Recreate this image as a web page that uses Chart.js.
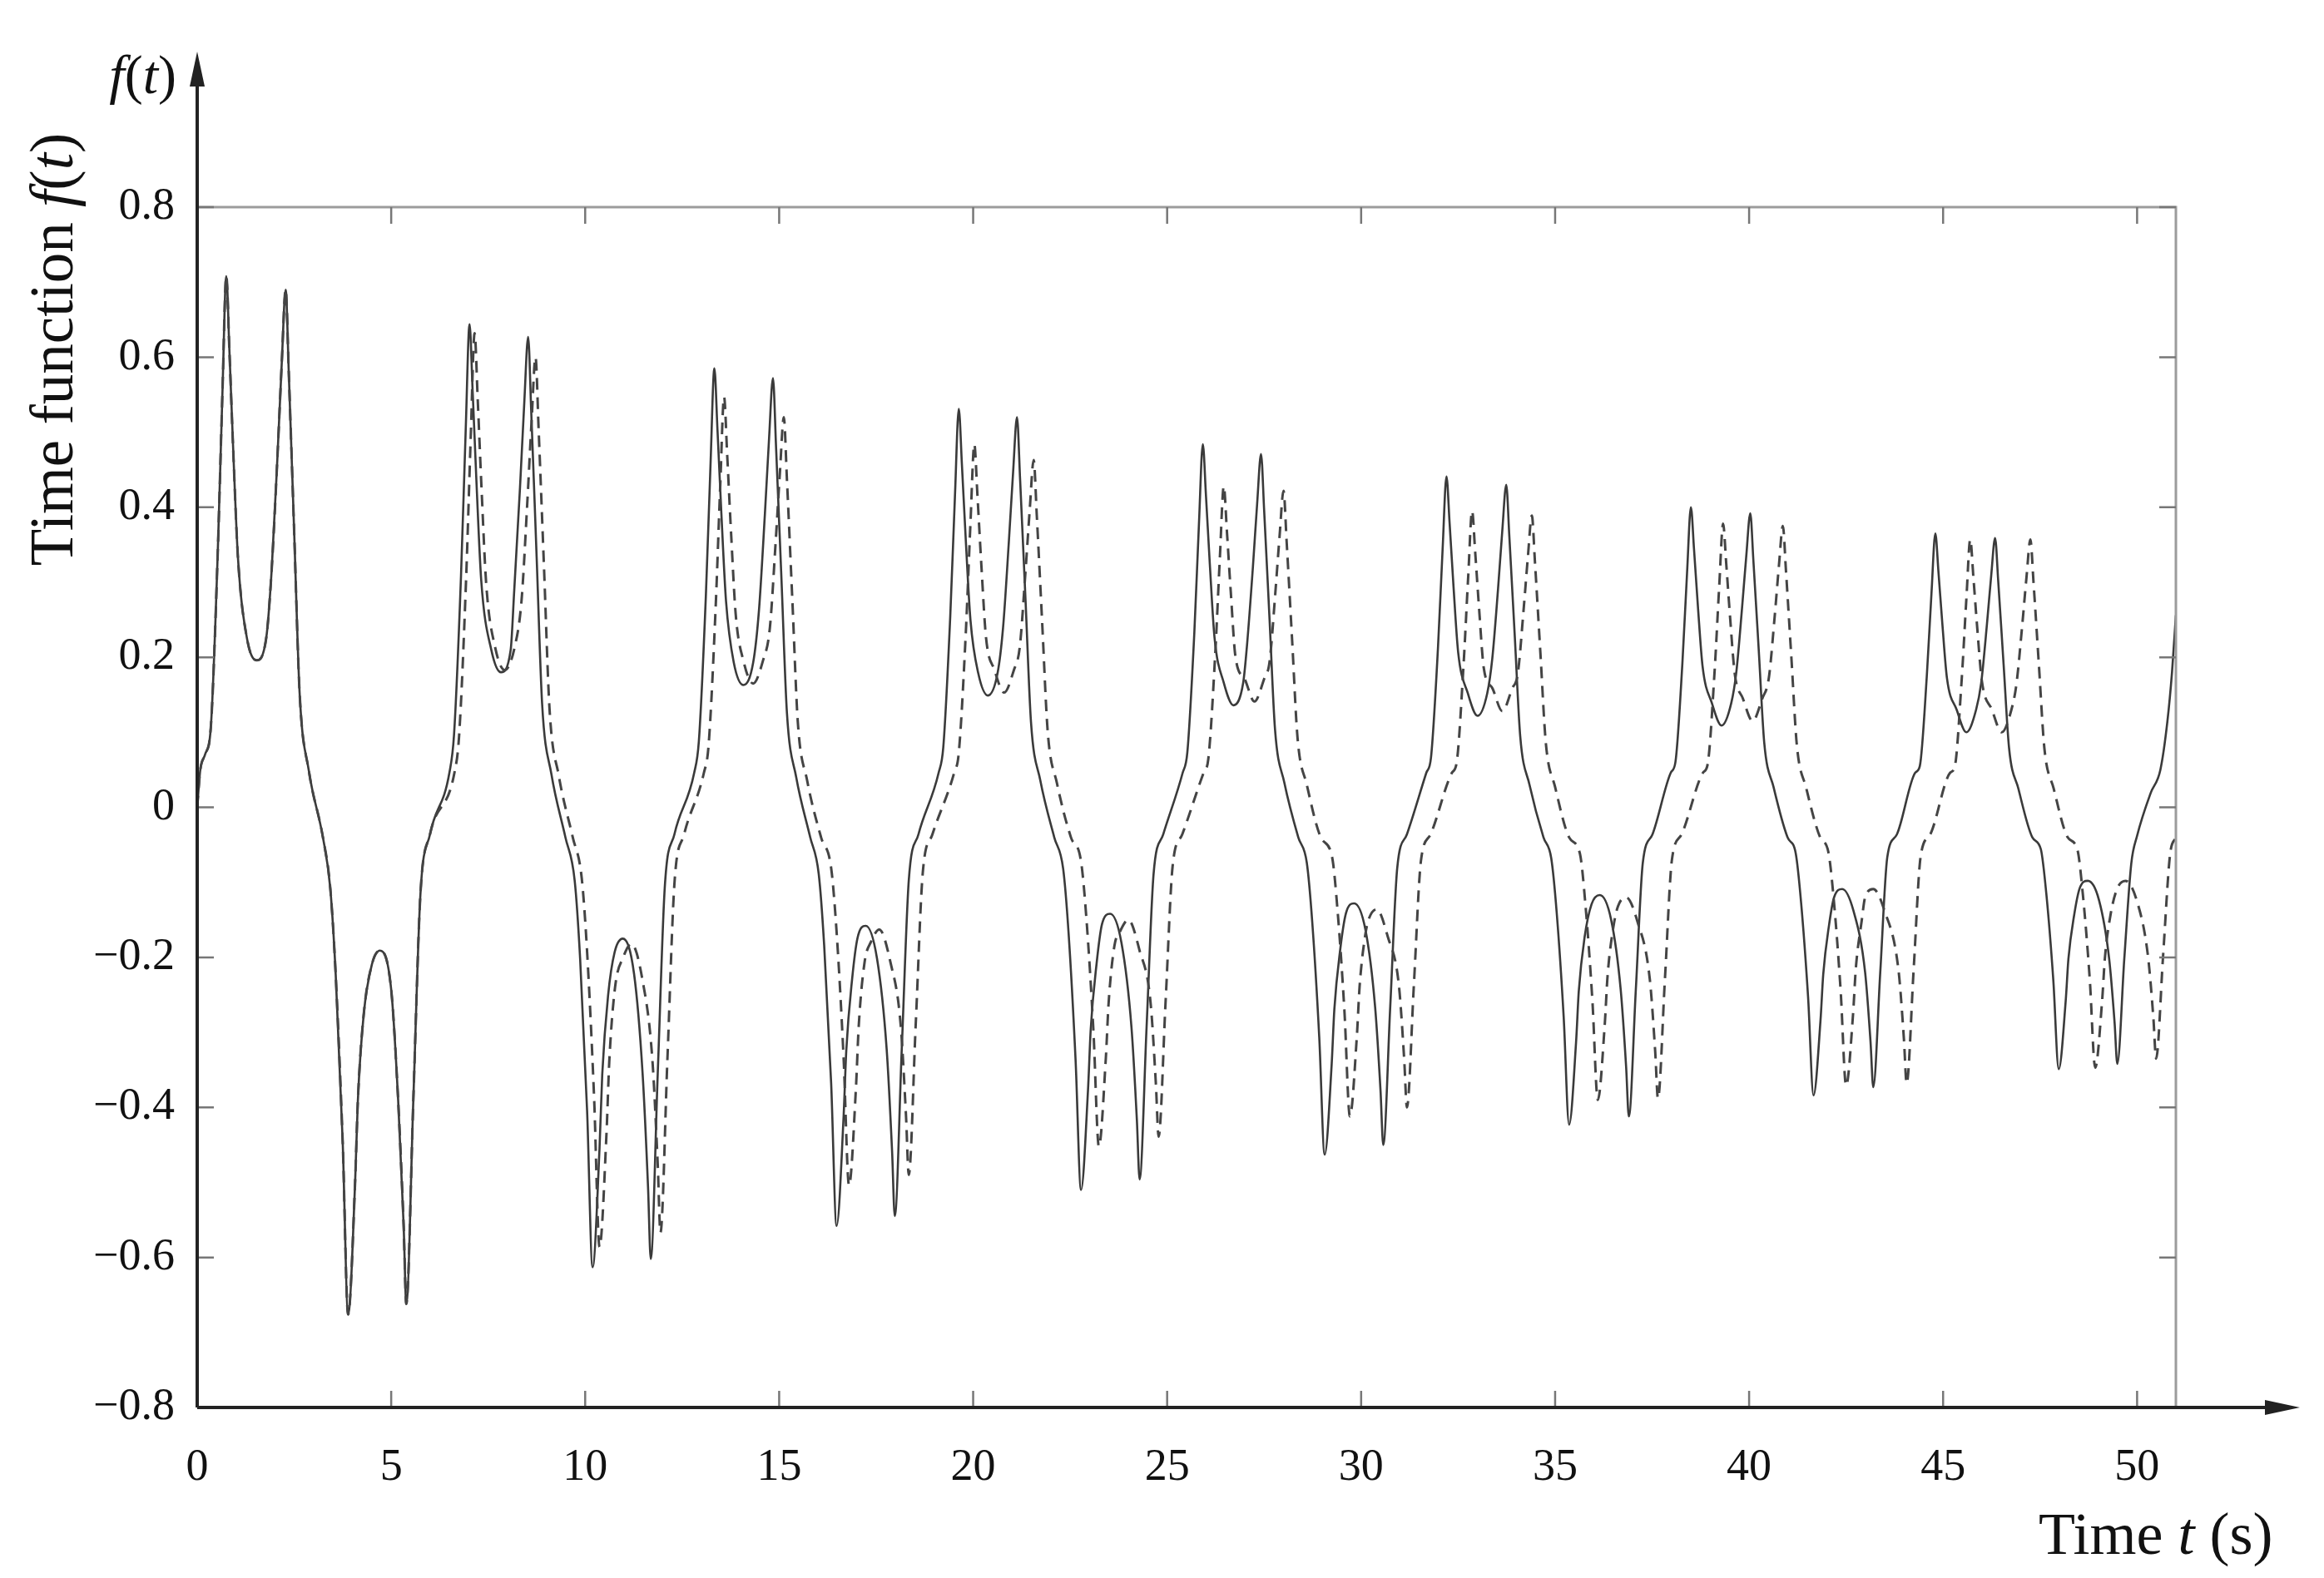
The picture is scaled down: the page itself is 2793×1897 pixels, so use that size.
<!DOCTYPE html>
<html>
<head>
<meta charset="utf-8">
<script src="https://cdn.jsdelivr.net/npm/chart.js@4.4.1/dist/chart.umd.min.js"></script>
<style>
    html, body { margin: 0; padding: 0; background: #fff; }
    #wrap { width: 2793px; height: 1897px; }
</style>
</head>
<body>
<div id="wrap"><canvas id="fchart" width="2793" height="1897"></canvas></div>
<script>
// Axis ticks
const X_TICKS = [0, 5, 10, 15, 20, 25, 30, 35, 40, 45, 50];
const Y_TICKS = [-0.8, -0.6, -0.4, -0.2, 0, 0.2, 0.4, 0.6, 0.8];
const T_MAX = 51;

// [t (s), f(t)] - solid curve
const solidCurve = [
    [0,0],[0.08,0.05],[0.2,0.07],[0.35,0.106],[0.53,0.34],[0.65,0.552],[0.75,0.708],[0.83,0.609],[0.93,0.474],[1.05,0.333],[1.28,0.226],[1.53,0.196],[1.78,0.226],[1.92,0.317],[2.07,0.469],[2.18,0.593],[2.28,0.69],[2.36,0.58],[2.5,0.366],[2.64,0.152],[2.88,0.048],[3.24,-0.04],[3.43,-0.108],[3.57,-0.223],[3.75,-0.446],[3.89,-0.676],[4.07,-0.5],[4.14,-0.392],[4.29,-0.277],[4.5,-0.21],[4.71,-0.191],[5.0,-0.243],[5.18,-0.391],[5.32,-0.556],[5.39,-0.662],
    [5.57,-0.391],[5.75,-0.119],[6.0,-0.036],[6.5,0.046],[6.62,0.097],[6.8,0.309],[6.92,0.502],[7.02,0.644],[7.1,0.554],[7.2,0.431],[7.32,0.303],[7.58,0.21],[7.83,0.18],[8.08,0.21],[8.17,0.288],[8.32,0.426],[8.43,0.539],[8.53,0.627],[8.61,0.527],[8.75,0.332],[8.89,0.138],[9.13,0.044],[9.49,-0.04],[9.73,-0.098],[9.87,-0.202],[10.05,-0.405],[10.19,-0.613],[10.37,-0.454],[10.44,-0.356],[10.59,-0.251],[10.76,-0.193],[10.97,-0.175],[11.26,-0.222],[11.48,-0.355],[11.62,-0.506],[11.69,-0.602],
    [11.87,-0.355],[12.05,-0.108],[12.3,-0.036],[12.81,0.046],[12.93,0.088],[13.11,0.281],[13.23,0.456],[13.33,0.585],[13.41,0.503],[13.51,0.392],[13.63,0.275],[13.83,0.193],[14.08,0.163],[14.33,0.193],[14.48,0.263],[14.63,0.389],[14.74,0.492],[14.84,0.572],[14.92,0.48],[15.06,0.303],[15.2,0.126],[15.44,0.04],[15.8,-0.04],[16.02,-0.089],[16.16,-0.184],[16.34,-0.368],[16.48,-0.558],[16.66,-0.413],[16.73,-0.324],[16.88,-0.229],[17.02,-0.174],[17.23,-0.158],[17.52,-0.201],[17.77,-0.322],[17.91,-0.458],[17.98,-0.545],
    [18.16,-0.322],[18.34,-0.098],[18.59,-0.036],[19.11,0.046],[19.23,0.08],[19.41,0.255],[19.53,0.414],[19.63,0.531],[19.71,0.457],[19.81,0.356],[19.93,0.25],[20.13,0.179],[20.38,0.149],[20.63,0.179],[20.77,0.239],[20.92,0.354],[21.03,0.447],[21.13,0.52],[21.21,0.437],[21.35,0.276],[21.49,0.114],[21.73,0.036],[22.09,-0.04],[22.32,-0.082],[22.46,-0.168],[22.64,-0.337],[22.78,-0.51],[22.96,-0.377],[23.03,-0.296],[23.18,-0.209],[23.32,-0.156],[23.53,-0.142],[23.82,-0.18],[24.08,-0.293],[24.22,-0.417],[24.29,-0.496],
    [24.47,-0.293],[24.65,-0.089],[24.9,-0.036],[25.4,0.046],[25.52,0.073],[25.7,0.232],[25.82,0.378],[25.92,0.484],[26.0,0.416],[26.1,0.324],[26.22,0.227],[26.46,0.166],[26.71,0.136],[26.96,0.166],[27.06,0.217],[27.21,0.32],[27.32,0.405],[27.42,0.471],[27.5,0.396],[27.64,0.25],[27.78,0.104],[28.02,0.033],[28.38,-0.04],[28.6,-0.074],[28.74,-0.153],[28.92,-0.306],[29.06,-0.463],[29.24,-0.343],[29.31,-0.269],[29.46,-0.19],[29.61,-0.141],[29.82,-0.128],[30.11,-0.163],[30.36,-0.266],[30.5,-0.378],[30.57,-0.45],
    [30.75,-0.266],[30.93,-0.081],[31.18,-0.036],[31.68,0.046],[31.8,0.066],[31.98,0.212],[32.1,0.344],[32.2,0.441],[32.28,0.379],[32.38,0.295],[32.5,0.207],[32.75,0.152],[33.0,0.122],[33.25,0.152],[33.38,0.198],[33.53,0.292],[33.64,0.37],[33.74,0.43],[33.82,0.361],[33.96,0.228],[34.1,0.095],[34.34,0.03],[34.7,-0.04],[34.9,-0.068],[35.04,-0.14],[35.22,-0.279],[35.36,-0.423],[35.54,-0.313],[35.61,-0.245],[35.76,-0.173],[35.94,-0.129],[36.15,-0.117],[36.44,-0.149],[36.69,-0.243],[36.83,-0.346],[36.9,-0.412],
    [37.08,-0.243],[37.26,-0.074],[37.51,-0.036],[37.98,0.046],[38.1,0.06],[38.28,0.192],[38.4,0.312],[38.5,0.4],[38.58,0.344],[38.68,0.268],[38.8,0.188],[39.04,0.139],[39.29,0.109],[39.54,0.139],[39.67,0.18],[39.82,0.267],[39.93,0.337],[40.03,0.392],[40.11,0.329],[40.25,0.208],[40.39,0.086],[40.63,0.027],[40.99,-0.04],[41.2,-0.061],[41.34,-0.127],[41.52,-0.253],[41.66,-0.384],[41.84,-0.284],[41.91,-0.223],[42.06,-0.157],[42.19,-0.12],[42.4,-0.109],[42.69,-0.138],[42.99,-0.22],[43.13,-0.313],[43.2,-0.373],
    [43.38,-0.22],[43.56,-0.067],[43.81,-0.036],[44.28,0.046],[44.4,0.055],[44.58,0.175],[44.7,0.285],[44.8,0.365],[44.88,0.314],[44.98,0.245],[45.1,0.172],[45.35,0.13],[45.6,0.1],[45.85,0.13],[45.98,0.165],[46.13,0.244],[46.24,0.309],[46.34,0.359],[46.42,0.302],[46.56,0.19],[46.7,0.079],[46.94,0.025],[47.3,-0.04],[47.52,-0.056],[47.66,-0.115],[47.84,-0.23],[47.98,-0.349],[48.16,-0.258],[48.23,-0.202],[48.38,-0.143],[48.52,-0.108],[48.73,-0.098],[49.02,-0.124],[49.28,-0.202],[49.42,-0.287],[49.49,-0.342],
    [49.67,-0.202],[49.85,-0.075],[50.0,-0.038],[50.35,0.019],[50.6,0.05],[50.78,0.114],[50.9,0.18],[51.0,0.256]
];

// dashed curve (lags the solid one a bit more each cycle)
const dashedCurve = [
    [0,0],[0.08,0.05],[0.2,0.07],[0.35,0.106],[0.53,0.34],[0.65,0.552],[0.75,0.708],[0.83,0.609],[0.93,0.474],[1.05,0.333],[1.28,0.226],[1.53,0.196],[1.78,0.226],[1.92,0.317],[2.07,0.469],[2.18,0.593],[2.28,0.69],[2.36,0.58],[2.5,0.366],[2.64,0.152],[2.88,0.048],[3.24,-0.04],[3.43,-0.108],[3.57,-0.223],[3.75,-0.446],[3.89,-0.676],[4.07,-0.5],[4.14,-0.392],[4.29,-0.277],[4.5,-0.21],[4.71,-0.191],[5.0,-0.243],[5.18,-0.391],[5.32,-0.556],[5.39,-0.662],
    [5.57,-0.391],[5.75,-0.119],[6.0,-0.036],[6.63,0.046],[6.75,0.095],[6.93,0.303],[7.05,0.493],[7.15,0.632],[7.23,0.544],[7.33,0.423],[7.45,0.297],[7.68,0.213],[7.93,0.183],[8.18,0.213],[8.36,0.276],[8.51,0.408],[8.62,0.516],[8.72,0.6],[8.8,0.504],[8.94,0.318],[9.08,0.132],[9.32,0.042],[9.68,-0.04],[9.91,-0.094],[10.05,-0.193],[10.23,-0.387],[10.37,-0.586],[10.55,-0.434],[10.62,-0.34],[10.77,-0.24],[10.98,-0.2],[11.19,-0.182],[11.48,-0.231],[11.73,-0.335],[11.87,-0.476],[11.94,-0.567],
    [12.12,-0.335],[12.3,-0.102],[12.55,-0.036],[13.06,0.046],[13.18,0.082],[13.36,0.263],[13.48,0.427],[13.58,0.547],[13.66,0.47],[13.76,0.366],[13.88,0.257],[14.08,0.195],[14.33,0.165],[14.58,0.195],[14.76,0.239],[14.91,0.354],[15.02,0.447],[15.12,0.52],[15.2,0.437],[15.34,0.276],[15.48,0.114],[15.72,0.036],[16.08,-0.04],[16.34,-0.081],[16.48,-0.166],[16.66,-0.333],[16.8,-0.504],[16.98,-0.373],[17.05,-0.292],[17.2,-0.207],[17.37,-0.179],[17.58,-0.163],[17.87,-0.207],[18.13,-0.289],[18.27,-0.412],[18.34,-0.49],
    [18.52,-0.289],[18.7,-0.088],[18.95,-0.036],[19.51,0.046],[19.63,0.073],[19.81,0.232],[19.93,0.378],[20.03,0.484],[20.11,0.416],[20.21,0.324],[20.33,0.227],[20.55,0.183],[20.8,0.153],[21.05,0.183],[21.2,0.213],[21.35,0.315],[21.46,0.398],[21.56,0.463],[21.64,0.389],[21.78,0.245],[21.92,0.102],[22.16,0.032],[22.52,-0.04],[22.78,-0.072],[22.92,-0.149],[23.1,-0.298],[23.24,-0.452],[23.42,-0.334],[23.49,-0.262],[23.64,-0.185],[23.79,-0.165],[24.0,-0.15],[24.29,-0.191],[24.57,-0.259],[24.71,-0.369],[24.78,-0.439],
    [24.96,-0.259],[25.14,-0.079],[25.39,-0.036],[25.94,0.046],[26.06,0.064],[26.24,0.205],[26.36,0.334],[26.46,0.428],[26.54,0.368],[26.64,0.287],[26.76,0.201],[27.0,0.171],[27.25,0.141],[27.5,0.171],[27.64,0.194],[27.79,0.287],[27.9,0.363],[28.0,0.422],[28.08,0.354],[28.22,0.224],[28.36,0.093],[28.6,0.03],[28.96,-0.04],[29.25,-0.066],[29.39,-0.136],[29.57,-0.272],[29.71,-0.412],[29.89,-0.305],[29.96,-0.239],[30.11,-0.169],[30.19,-0.15],[30.4,-0.136],[30.69,-0.173],[30.97,-0.236],[31.11,-0.336],[31.18,-0.4],
    [31.36,-0.236],[31.54,-0.072],[31.79,-0.036],[32.34,0.046],[32.46,0.059],[32.64,0.19],[32.76,0.308],[32.86,0.395],[32.94,0.34],[33.04,0.265],[33.16,0.186],[33.39,0.158],[33.64,0.128],[33.89,0.158],[34.04,0.179],[34.19,0.265],[34.3,0.335],[34.4,0.389],[34.48,0.327],[34.62,0.206],[34.76,0.086],[35.0,0.027],[35.36,-0.04],[35.64,-0.062],[35.78,-0.129],[35.96,-0.257],[36.1,-0.39],[36.28,-0.289],[36.35,-0.226],[36.5,-0.16],[36.62,-0.132],[36.83,-0.12],[37.12,-0.152],[37.44,-0.229],[37.58,-0.326],[37.65,-0.388],
    [37.83,-0.229],[38.01,-0.07],[38.26,-0.036],[38.81,0.046],[38.93,0.057],[39.11,0.181],[39.23,0.295],[39.33,0.378],[39.41,0.325],[39.51,0.253],[39.63,0.178],[39.84,0.145],[40.09,0.115],[40.34,0.145],[40.51,0.173],[40.66,0.255],[40.77,0.323],[40.87,0.375],[40.95,0.315],[41.09,0.199],[41.23,0.083],[41.47,0.026],[41.83,-0.04],[42.04,-0.059],[42.18,-0.122],[42.36,-0.245],[42.5,-0.371],[42.68,-0.275],[42.75,-0.215],[42.9,-0.152],[42.99,-0.12],[43.2,-0.109],[43.49,-0.138],[43.85,-0.217],[43.99,-0.309],[44.06,-0.368],
    [44.24,-0.217],[44.42,-0.066],[44.67,-0.036],[45.18,0.046],[45.3,0.054],[45.48,0.171],[45.6,0.278],[45.7,0.357],[45.78,0.307],[45.88,0.239],[46.0,0.168],[46.26,0.13],[46.51,0.1],[46.76,0.13],[46.89,0.164],[47.04,0.243],[47.15,0.307],[47.25,0.357],[47.33,0.3],[47.47,0.189],[47.61,0.079],[47.85,0.025],[48.21,-0.04],[48.46,-0.056],[48.6,-0.115],[48.78,-0.229],[48.92,-0.347],[49.1,-0.257],[49.17,-0.201],[49.32,-0.142],[49.49,-0.108],[49.7,-0.098],[49.99,-0.124],[50.28,-0.198],[50.42,-0.281],[50.49,-0.335],
    [50.67,-0.198],[50.85,-0.063],[51.0,-0.04]
];

const SERIF = '"Liberation Serif", "DejaVu Serif", serif';

function fmtY(v) {
    if (Math.abs(v) < 1e-9) return '0';
    const s = Math.abs(v).toFixed(1);
    return v < 0 ? '\u2212' + s : s;
}

// draw a run of text pieces, some italic, starting at x
function drawRich(ctx, parts, x, y, size) {
    parts.forEach(p => {
        ctx.font = (p.italic ? 'italic ' : '') + size + 'px ' + SERIF;
        ctx.fillText(p.text, x, y);
        x += ctx.measureText(p.text).width;
    });
}

function richWidth(ctx, parts, size) {
    let w = 0;
    parts.forEach(p => {
        ctx.font = (p.italic ? 'italic ' : '') + size + 'px ' + SERIF;
        w += ctx.measureText(p.text).width;
    });
    return w;
}

// box, arrows, inward ticks and axis titles
const framePlugin = {
    id: 'frame',
    afterDraw(chart) {
        const ctx = chart.ctx;
        const a = chart.chartArea;
        const xs = chart.scales.x, ys = chart.scales.y;
        ctx.save();

        // light top / right border
        ctx.strokeStyle = '#9c9c9c';
        ctx.lineWidth = 3;
        ctx.beginPath();
        ctx.moveTo(a.left, a.top); ctx.lineTo(a.right, a.top); ctx.lineTo(a.right, a.bottom);
        ctx.stroke();

        // ticks
        const tl = 20;
        ctx.strokeStyle = '#777';
        ctx.lineWidth = 2.5;
        ctx.beginPath();
        X_TICKS.forEach(v => {
            const px = xs.getPixelForValue(v);
            if (v === 0) return;
            ctx.moveTo(px, a.bottom); ctx.lineTo(px, a.bottom - tl);
            ctx.moveTo(px, a.top); ctx.lineTo(px, a.top + tl);
        });
        Y_TICKS.forEach(v => {
            const py = ys.getPixelForValue(v);
            ctx.moveTo(a.left, py); ctx.lineTo(a.left + tl, py);
            ctx.moveTo(a.right, py); ctx.lineTo(a.right - tl, py);
        });
        ctx.stroke();

        // main axes with arrows
        ctx.strokeStyle = '#222';
        ctx.fillStyle = '#222';
        ctx.lineWidth = 4;
        ctx.beginPath();
        ctx.moveTo(a.left, a.bottom); ctx.lineTo(a.left, 95);
        ctx.moveTo(a.left, a.bottom); ctx.lineTo(2735, a.bottom);
        ctx.stroke();
        ctx.beginPath();
        ctx.moveTo(a.left, 62); ctx.lineTo(a.left - 9, 104); ctx.lineTo(a.left + 9, 104); ctx.closePath();
        ctx.fill();
        ctx.beginPath();
        ctx.moveTo(2764, a.bottom); ctx.lineTo(2722, a.bottom - 9); ctx.lineTo(2722, a.bottom + 9); ctx.closePath();
        ctx.fill();

        // titles
        ctx.fillStyle = '#111';
        ctx.textBaseline = 'alphabetic';
        ctx.textAlign = 'left';
        const ft = [{ text: 'f', italic: true }, { text: '(' }, { text: 't', italic: true }, { text: ')' }];
        drawRich(ctx, ft, 212 - richWidth(ctx, ft, 66), 112, 66);

        drawRich(ctx, [{ text: 'Time ' }, { text: 't', italic: true }, { text: ' (s)' }], 2450, 1868, 72);

        const yt = [{ text: 'Time function ' }, { text: 'f', italic: true }, { text: '(' }, { text: 't', italic: true }, { text: ')' }];
        ctx.translate(68, 420);
        ctx.rotate(-Math.PI / 2);
        ctx.textBaseline = 'middle';
        drawRich(ctx, yt, -richWidth(ctx, yt, 73) / 2, 0, 73);

        ctx.restore();
    }
};

const toPoints = arr => arr.map(([t, f]) => ({ x: t, y: f }));

new Chart(document.getElementById('fchart').getContext('2d'), {
    type: 'line',
    data: {
        datasets: [
            {
                label: 'dashed',
                data: toPoints(dashedCurve),
                borderColor: '#444',
                borderWidth: 3,
                borderDash: [14, 9],
                pointRadius: 0,
                cubicInterpolationMode: 'monotone',
                fill: false
            },
            {
                label: 'solid',
                data: toPoints(solidCurve),
                borderColor: '#3a3a3a',
                borderWidth: 2.6,
                pointRadius: 0,
                cubicInterpolationMode: 'monotone',
                fill: false
            }
        ]
    },
    options: {
        responsive: false,
        devicePixelRatio: 1,
        animation: false,
        layout: { padding: { left: 0, top: 249, right: 178, bottom: 0 } },
        plugins: { legend: { display: false }, tooltip: { enabled: false } },
        scales: {
            x: {
                type: 'linear',
                min: 0,
                max: T_MAX,
                afterBuildTicks: s => { s.ticks = X_TICKS.map(v => ({ value: v })); },
                afterFit: s => { s.height = 205; },
                grid: { display: false, drawTicks: false },
                border: { display: false },
                ticks: {
                    autoSkip: false,
                    maxRotation: 0,
                    padding: 40,
                    color: '#111',
                    font: { family: SERIF, size: 54 },
                    callback: v => String(v)
                }
            },
            y: {
                type: 'linear',
                min: -0.8,
                max: 0.8,
                afterBuildTicks: s => { s.ticks = Y_TICKS.map(v => ({ value: v })); },
                afterFit: s => { s.width = 237; },
                grid: { display: false, drawTicks: false },
                border: { display: false },
                ticks: {
                    autoSkip: false,
                    padding: 27,
                    color: '#111',
                    font: { family: SERIF, size: 54 },
                    callback: v => fmtY(v)
                }
            }
        }
    },
    plugins: [framePlugin]
});
</script>
</body>
</html>
